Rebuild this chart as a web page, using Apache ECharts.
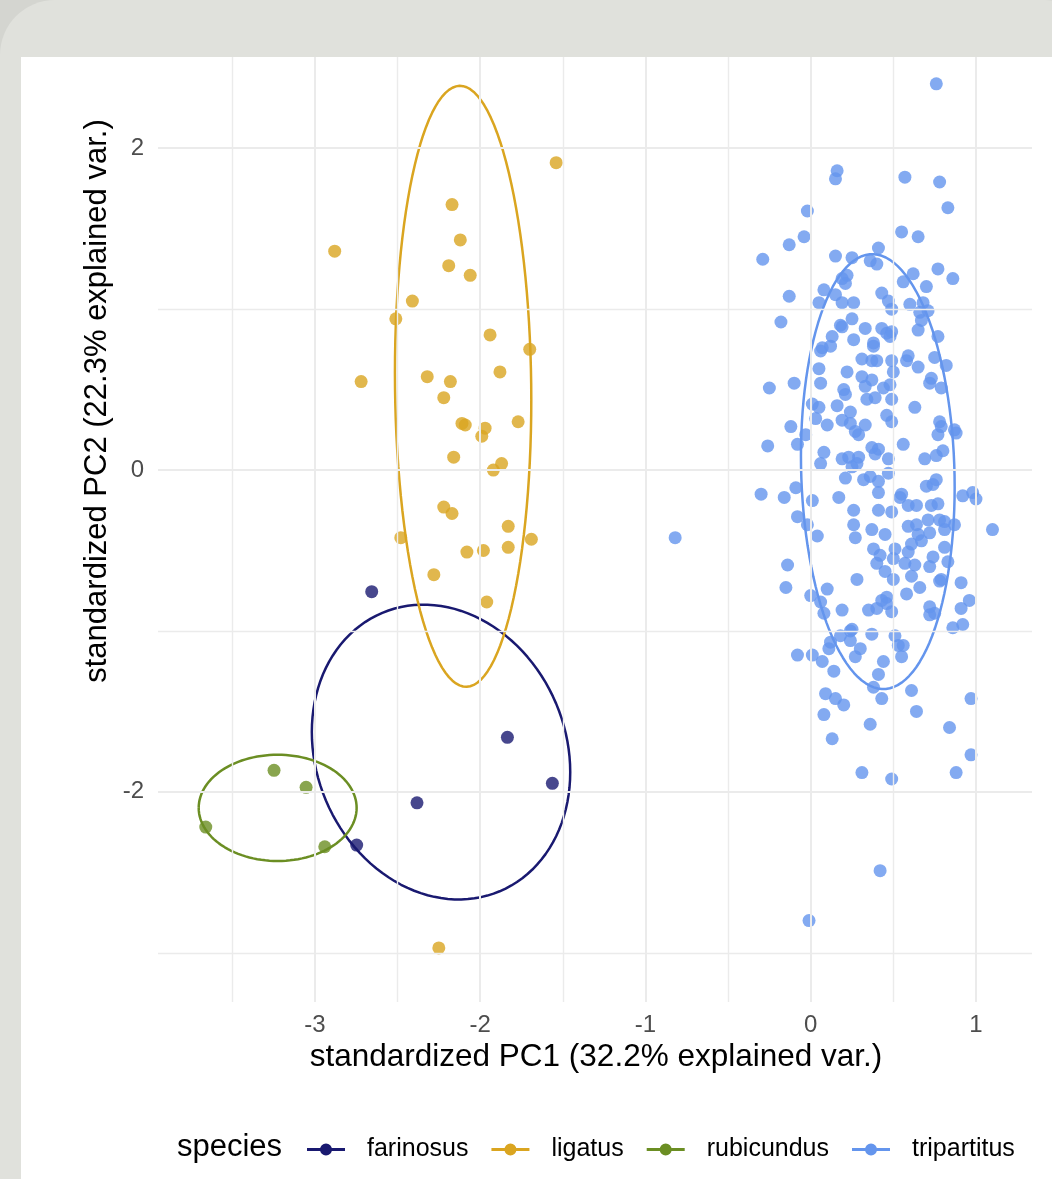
<!DOCTYPE html>
<html>
<head>
<meta charset="utf-8">
<script src="https://cdn.jsdelivr.net/npm/echarts@6/dist/echarts.min.js"></script>
<style>html,body{margin:0;padding:0;background:#d4d5d0;}#chart{width:1052px;height:1179px;}</style>
</head>
<body>
<div id="chart"></div>
<script>
// ---- tick values ----
const xMajorTicks = [-3, -2, -1, 0, 1];
const xMinorTicks = [-3.5, -2.5, -1.5, -0.5, 0.5];
const yMajorTicks = [-2, 0, 2];
const yMinorTicks = [-3, -1, 1];
const xRange = [-3.949, 1.339];
const yRange = [-3.306, 2.567];

// ---- labels ----
const speciesNames = ['farinosus', 'ligatus', 'rubicundus', 'tripartitus'];
const xTitle = 'standardized PC1 (32.2% explained var.)';
const yTitle = 'standardized PC2 (22.3% explained var.)';
const legendTitle = 'species';

// ---- data: [PC1, PC2] per sample ----
const farinosus = [[-2.656,-0.756],[-1.835,-1.661],[-1.563,-1.947],[-2.382,-2.068],[-2.747,-2.331]];
const rubicundus = [[-3.247,-1.866],[-3.053,-1.972],[-3.660,-2.219],[-2.940,-2.341]];
// the last three ligatus samples lie above the cropped top of the picture (estimated from the ellipse and axis range)
const ligatus = [[-1.54,1.91],[-2.17,1.65],[-2.12,1.43],[-2.88,1.36],[-2.19,1.27],[-2.06,1.21],[-2.41,1.05],[-2.51,0.94],[-1.94,0.84],[-1.70,0.75],[-2.72,0.55],[-2.32,0.58],[-2.18,0.55],[-1.88,0.61],[-2.22,0.45],[-2.11,0.29],[-2.09,0.28],[-1.97,0.26],[-1.99,0.21],[-1.77,0.30],[-2.16,0.08],[-1.87,0.04],[-1.92,0.00],[-2.22,-0.23],[-2.17,-0.27],[-1.83,-0.35],[-2.48,-0.42],[-1.69,-0.43],[-2.08,-0.51],[-1.98,-0.50],[-1.83,-0.48],[-2.28,-0.65],[-1.96,-0.82],[-2.25,-2.97],
  [-2.05,3.77],[-2.15,3.35],[-2.12,3.15]];
const tripartitus = [
[0.76,2.40],[0.16,1.86],[0.15,1.81],[0.57,1.82],[0.78,1.79],[0.83,1.63],[-0.02,1.61],[0.55,1.48],[0.65,1.45],[-0.04,1.45],[-0.13,1.40],[-0.29,1.31],[0.41,1.38],[0.15,1.33],[0.25,1.32],[0.36,1.30],[0.40,1.28],[0.77,1.25],[0.86,1.19],[0.62,1.22],[0.56,1.17],[0.70,1.14],[0.22,1.21],[0.19,1.19],[0.21,1.16],[0.08,1.12],[0.43,1.10],[-0.13,1.08],
[0.15,1.09],[0.05,1.04],[0.19,1.04],[0.26,1.04],[0.47,1.05],[0.49,1.00],[0.60,1.03],[0.68,1.04],[0.71,0.99],[0.66,0.98],[0.67,0.93],[-0.18,0.92],[0.25,0.94],[0.18,0.90],[0.19,0.89],[0.33,0.88],[0.43,0.88],[0.46,0.85],[0.49,0.86],[0.48,0.83],[0.65,0.87],[0.77,0.83],[0.13,0.83],[0.26,0.81],[0.38,0.79],[0.38,0.77],[0.07,0.76],[0.12,0.77],[0.06,0.74],[0.31,0.69],[0.37,0.68],[0.40,0.68],[0.49,0.68],[0.59,0.71],[0.58,0.68],[0.75,0.70],[0.82,0.65],[0.65,0.64],[0.05,0.63],[0.22,0.61],[0.50,0.61],[-0.10,0.54],[-0.25,0.51],[0.06,0.54],[0.31,0.58],[0.37,0.56],[0.33,0.52],[0.44,0.51],[0.48,0.53],[0.73,0.57],[0.72,0.54],[0.79,0.51],[0.20,0.50],[0.21,0.47],[0.34,0.44],[0.39,0.45],[0.49,0.44],[0.01,0.41],[0.05,0.39],[0.16,0.40],[0.63,0.39],[0.24,0.36],[0.46,0.34],[0.49,0.30],[0.03,0.32],[0.19,0.31],[0.24,0.29],[0.10,0.28],[0.33,0.28],[0.78,0.30],[0.79,0.27],[-0.12,0.27],[0.87,0.25],
[0.27,0.24],[0.29,0.22],[-0.03,0.22],[0.77,0.22],[0.88,0.23],[-0.26,0.15],[-0.08,0.16],[0.08,0.11],[0.06,0.04],[0.19,0.07],[0.23,0.08],[0.29,0.08],[0.25,0.02],[0.28,0.04],[0.37,0.14],[0.41,0.13],[0.39,0.10],[0.47,0.07],[0.56,0.16],[0.69,0.07],[0.76,0.09],[0.80,0.12],[0.47,-0.02],[0.21,-0.05],[0.32,-0.06],[0.36,-0.04],[0.41,-0.07],[0.41,-0.14],[-0.30,-0.15],[-0.16,-0.17],[-0.09,-0.11],[0.01,-0.19],[0.17,-0.17],[0.55,-0.15],[0.54,-0.17],[0.59,-0.22],[0.64,-0.22],[0.70,-0.10],[0.74,-0.09],[0.76,-0.06],[0.73,-0.22],[0.77,-0.21],[0.92,-0.16],[0.98,-0.14],[1.00,-0.18],[0.26,-0.25],[0.41,-0.25],[0.49,-0.26],[-0.08,-0.29],[-0.02,-0.34],[0.04,-0.41],[0.26,-0.34],[0.27,-0.42],[0.37,-0.37],[0.45,-0.40],[0.59,-0.35],[0.64,-0.34],[0.71,-0.31],[0.78,-0.31],[0.81,-0.32],[0.87,-0.34],[0.81,-0.37],[0.72,-0.39],[0.65,-0.40],[0.67,-0.44],[1.10,-0.37],[0.61,-0.46],[0.38,-0.49],[0.42,-0.53],[0.51,-0.49],[0.59,-0.51],[0.50,-0.55],[0.74,-0.54],[0.81,-0.48],[-0.14,-0.59],[0.40,-0.58],[0.57,-0.58],[0.63,-0.59],[0.83,-0.57],
[0.72,-0.60],[0.45,-0.63],[-0.15,-0.73],[0.10,-0.74],[0.28,-0.68],[0.50,-0.68],[0.61,-0.66],[0.66,-0.73],[0.79,-0.68],[0.78,-0.69],[0.91,-0.70],[0.58,-0.77],[0.00,-0.78],[0.06,-0.82],[0.08,-0.89],[0.19,-0.87],[0.35,-0.87],[0.40,-0.86],[0.43,-0.81],[0.46,-0.79],[0.46,-0.83],[0.49,-0.88],[0.72,-0.85],[0.75,-0.89],[0.72,-0.90],[0.96,-0.81],[0.91,-0.86],[0.86,-0.98],[0.92,-0.96],[0.25,-0.99],[0.24,-1.00],[0.37,-1.02],[0.18,-1.03],[0.12,-1.07],[0.11,-1.11],[0.24,-1.06],[0.30,-1.11],[0.27,-1.16],[0.51,-1.03],[0.53,-1.09],[0.56,-1.09],[0.55,-1.16],[-0.08,-1.15],[0.01,-1.15],[0.07,-1.19],[0.14,-1.25],[0.44,-1.19],[0.41,-1.27],[0.38,-1.35],[0.61,-1.37],[0.09,-1.39],[0.15,-1.42],[0.43,-1.42],[0.97,-1.42],
[0.20,-1.46],[0.08,-1.52],[0.64,-1.50],[0.36,-1.58],[0.84,-1.60],[0.13,-1.67],[0.97,-1.77],[0.31,-1.88],[0.49,-1.92],[0.88,-1.88],[0.42,-2.49],[-0.01,-2.80],
[-0.82,-0.42]
];

const speciesColors = ['#191970', '#DAA520', '#6B8E23', '#6495ED'];
const ellipseProb = 0.68;

// ---- normal-probability ellipse (as in ggbiplot) ----
function ellipse(pts) {
  const n = pts.length;
  let mx = 0, my = 0;
  pts.forEach(p => { mx += p[0]; my += p[1]; });
  mx /= n; my /= n;
  let sxx = 0, syy = 0, sxy = 0;
  pts.forEach(p => {
    const dx = p[0] - mx, dy = p[1] - my;
    sxx += dx * dx; syy += dy * dy; sxy += dx * dy;
  });
  sxx /= (n - 1); syy /= (n - 1); sxy /= (n - 1);
  const a = Math.sqrt(sxx), b = sxy / a, c = Math.sqrt(syy - b * b);
  const ed = Math.sqrt(-2 * Math.log(1 - ellipseProb));
  const out = [];
  for (let i = 0; i <= 120; i++) {
    const t = -Math.PI + 2 * Math.PI * i / 120;
    out.push([mx + ed * a * Math.cos(t), my + ed * (b * Math.cos(t) + c * Math.sin(t))]);
  }
  return out;
}

const groups = [farinosus, ligatus, rubicundus, tripartitus];
const FONT = '"Liberation Sans", Arial, Helvetica, sans-serif';

const series = [];
// grid lines through the axes
series.push({
  type: 'line', data: [], silent: true, z: 1,
  markLine: {
    silent: true, symbol: 'none', animation: false,
    label: { show: false },
    lineStyle: { color: '#ebebeb', width: 1.4, type: 'solid' },
    data: xMinorTicks.map(v => ({ xAxis: v })).concat(yMinorTicks.map(v => ({ yAxis: v })))
  }
});
series.push({
  type: 'line', data: [], silent: true, z: 1,
  markLine: {
    silent: true, symbol: 'none', animation: false,
    label: { show: false },
    lineStyle: { color: '#ebebeb', width: 2, type: 'solid' },
    data: xMajorTicks.map(v => ({ xAxis: v })).concat(yMajorTicks.map(v => ({ yAxis: v })))
  }
});
groups.forEach((g, i) => {
  series.push({
    name: speciesNames[i], type: 'scatter', data: g, symbol: 'circle', symbolSize: 13, z: 3, clip: true,
    itemStyle: { color: speciesColors[i], opacity: 0.8 }
  });
});
groups.forEach((g, i) => {
  series.push({
    name: speciesNames[i], type: 'line', data: ellipse(g), showSymbol: false, symbol: 'none', z: 4, clip: true,
    lineStyle: { color: speciesColors[i], width: 2.5 }, itemStyle: { color: speciesColors[i] }
  });
});

const chart = echarts.init(document.getElementById('chart'), null, { renderer: 'canvas' });
chart.setOption({
  animation: false,
  backgroundColor: '#d4d5d0',
  graphic: [
    { type: 'rect', z: -10, shape: { x: 0, y: 0, width: 1100, height: 1250, r: 55 }, style: { fill: '#e0e1dc' } },
    { type: 'rect', z: -9, shape: { x: 21, y: 57, width: 1031, height: 1122 }, style: { fill: '#ffffff' } },
    { type: 'text', z: 10, x: 596, y: 1057, style: { text: xTitle, font: '31.5px ' + FONT, fill: '#000', textAlign: 'center', textVerticalAlign: 'middle' } },
    { type: 'text', z: 10, x: 97, y: 401, rotation: Math.PI / 2, style: { text: yTitle, font: '31px ' + FONT, fill: '#000', textAlign: 'center', textVerticalAlign: 'middle' } },
    { type: 'text', z: 10, x: 177, y: 1147, style: { text: legendTitle, font: '31px ' + FONT, fill: '#000', textAlign: 'left', textVerticalAlign: 'middle' } }
  ],
  grid: { left: 158, right: 20, top: 57, bottom: 177, containLabel: false },
  xAxis: {
    type: 'value', min: xRange[0], max: xRange[1],
    axisLine: { show: false }, axisTick: { show: false }, splitLine: { show: false },
    axisLabel: { customValues: xMajorTicks, margin: 11, fontSize: 24, color: '#4d4d4d', fontFamily: FONT }
  },
  yAxis: {
    type: 'value', min: yRange[0], max: yRange[1],
    axisLine: { show: false }, axisTick: { show: false }, splitLine: { show: false },
    axisLabel: { customValues: yMajorTicks, margin: 14, fontSize: 24, color: '#4d4d4d', fontFamily: FONT }
  },
  legend: {
    left: 302, top: 1132, orient: 'horizontal',
    itemWidth: 38, itemHeight: 12, itemGap: 23,
    icon: 'path://M0,4.6 L13.2,4.6 L13.2,7.4 L0,7.4 Z M24.8,4.6 L38,4.6 L38,7.4 L24.8,7.4 Z M25,6 A6,6 0 1 1 13,6 A6,6 0 1 1 25,6 Z',
    textStyle: { fontSize: 25, color: '#000', fontFamily: FONT, padding: [0, 0, 0, 17] },
    data: speciesNames.map((n, i) => ({ name: n, itemStyle: { color: speciesColors[i], opacity: 1 } }))
  },
  series: series
});
</script>
</body>
</html>
